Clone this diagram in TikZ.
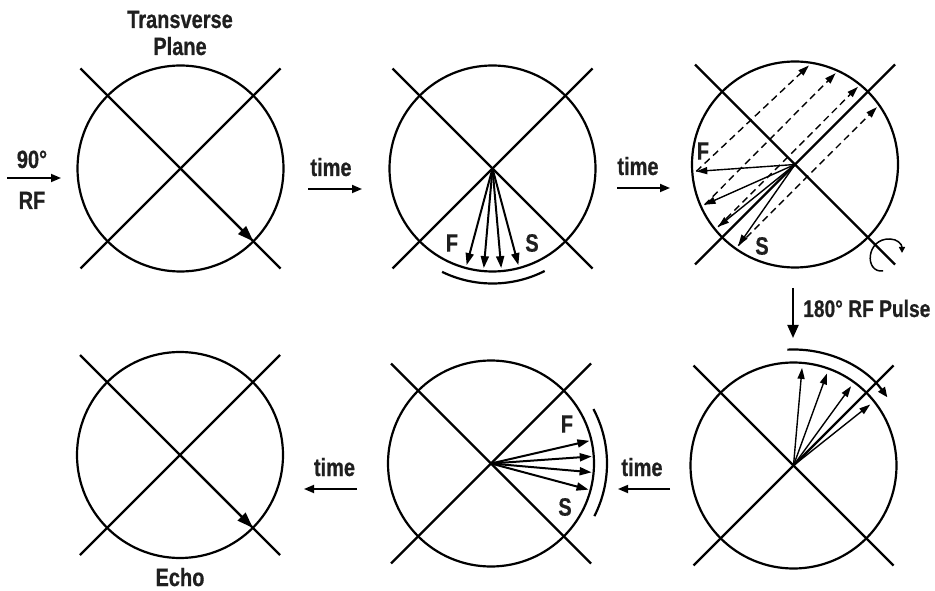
\documentclass[tikz,border=0pt]{standalone}
\usepackage{fontspec}
\setmainfont{Liberation Sans}[FakeStretch=0.8,BoldFeatures={FakeBold=0.6}]
\usetikzlibrary{arrows.meta,calc}
\newcommand\mrpanel[3]{%
  \node[ring] (#1) at (#2,#3) {};
  \draw[axisln] ($(#1.center)+(-100,100)$) -- ($(#1.center)+(100,-100)$);
  \draw[axisln] ($(#1.center)+(-100,-100)$) -- ($(#1.center)+(100,100)$);
}
\begin{document}
\begin{tikzpicture}[x=1pt,y=1pt,
  ring/.style={circle,draw,line width=2.2pt,minimum size=206pt,inner sep=0pt},
  axisln/.style={line width=2.2pt},
  lab/.style={font=\fontsize{25}{27}\selectfont\bfseries,inner sep=0pt,text=black!88},
  flow/.style={line width=1.7pt,-{Triangle[length=10pt,width=8pt]}},
  bigvec/.style={line width=2pt,-{Triangle[length=16pt,width=11pt]}},
  vecA/.style={line width=2pt,-{Triangle[length=12pt,width=8pt]}},
  vecB/.style={line width=1.4pt,-{Triangle[length=11pt,width=7pt]}},
  dashvec/.style={vecB,dash pattern=on 7pt off 4.5pt},
  spread/.style={line width=2.2pt},
]
\useasboundingbox (0,0) rectangle (935,590);

\mrpanel{p1}{180.5}{421.5}
\mrpanel{p2}{492.5}{421.5}
\mrpanel{p3}{795}{425.5}
\mrpanel{p4}{793.5}{124.5}
\mrpanel{p5}{491}{126.5}
\mrpanel{p6}{180}{135}

% top labels
\node[lab,anchor=base] (tt) at (180,562) {Transverse};
\node[lab,anchor=base] (tp) at (180,535) {Plane};
\node[lab,anchor=base] (n90) at (32,422) {90°};
\node[lab,anchor=base] (nrf) at (32,381) {RF};
\coordinate (a90s) at (7,412); \coordinate (a90e) at (61,412);
\draw[flow] (a90s) -- (a90e);

% panel 1
\draw[bigvec] (p1.center) -- ($(p1.center)+(-45:103)$);

% time 1->2
\node[lab,anchor=base] (t12) at (331,414) {time};
\coordinate (t12s) at (308,401); \coordinate (t12e) at (362,401);
\draw[flow] (t12s) -- (t12e);

% panel 2
\foreach \a in {255,265,275,285}
  \draw[vecA] (p2.center) -- ($(p2.center)+(\a:100)$);
\draw[spread] ($(p2.center)+(244:115)$) arc[start angle=244,end angle=297,radius=115];
\node[lab] (f2) at (452,347) {F};
\node[lab] (s2) at (532,347) {S};

% time 2->3
\node[lab,anchor=base] (t23) at (638,415) {time};
\coordinate (t23s) at (617,402); \coordinate (t23e) at (670,402);
\draw[flow] (t23s) -- (t23e);

% panel 3
\foreach \s/\e in {184/82,204/66,219/51,235/35}{
  \draw[vecB] (p3.center) -- ($(p3.center)+(\s:99)$);
  \draw[dashvec] ($(p3.center)+(\s:99)$) -- ($(p3.center)+(\e:100)$);
}
\node[lab] (f3) at (703,439) {F};
\node[lab] (s3) at (762,344) {S};
\draw[line width=1.5pt,-{Triangle[length=6pt,width=6pt]}]
  (883,319) .. controls (864,317) and (866,352) .. (890,351)
  .. controls (897,351) and (902,346) .. (902,337);

% 180 pulse
\coordinate (r1) at (793,302); \coordinate (r2) at (793,252);
\draw[line width=2pt,-{Triangle[length=13pt,width=11pt]}] (r1) -- (r2);
\node[lab,font=\fontsize{24}{26}\selectfont\bfseries,anchor=base west] (pulse) at (803,273) {180° RF Pulse};

% panel 4
\foreach \a in {85,70,54,38.5}
  \draw[vecB] (p4.center) -- ($(p4.center)+(\a:98)$);
\draw[line width=2.2pt,-{Triangle[length=10pt,width=8pt]}]
  ($(p4.center)+(93:116)$) arc[start angle=93,end angle=36,radius=116];

% time 4->5
\node[lab,anchor=base] (t45) at (642,114) {time};
\coordinate (t45s) at (670,101); \coordinate (t45e) at (618,101);
\draw[flow] (t45s) -- (t45e);

% panel 5
\foreach \a in {13,4,-5,-15}
  \draw[vecA] (p5.center) -- ($(p5.center)+(\a:101)$);
\draw[spread] ($(p5.center)+(-27:116)$) arc[start angle=-27,end angle=28,radius=116];
\node[lab] (f5) at (567,166) {F};
\node[lab] (s5) at (565,83) {S};

% time 5->6
\node[lab,anchor=base] (t56) at (334.5,114) {time};
\coordinate (t56s) at (357,101); \coordinate (t56e) at (304,101);
\draw[flow] (t56s) -- (t56e);

% panel 6
\draw[bigvec] (p6.center) -- ($(p6.center)+(-45:103)$);
\node[lab,anchor=base] (echo) at (180,4) {Echo};
\end{tikzpicture}
\end{document}
